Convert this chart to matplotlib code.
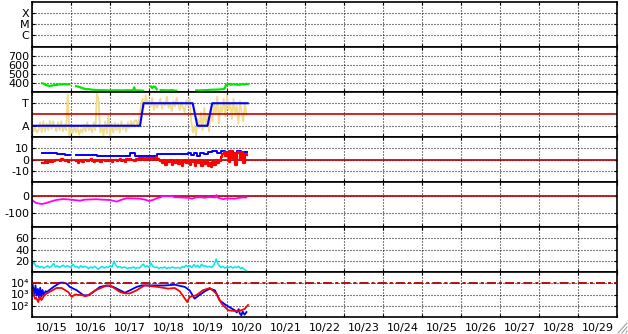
import numpy as np
import matplotlib
matplotlib.use("Agg")
import matplotlib.pyplot as plt
from matplotlib.ticker import FixedLocator, FixedFormatter, NullFormatter
from matplotlib.lines import Line2D

plt.rcParams['font.family'] = ['DejaVu Sans']
plt.rcParams['axes.unicode_minus'] = False
plt.rcParams['lines.scale_dashes'] = False

nan = np.nan
# ---------------- data (time in days since 10/15 00:00) ----------------
date_labels = ['10/15', '10/16', '10/17', '10/18', '10/19', '10/20', '10/21', '10/22',
               '10/23', '10/24', '10/25', '10/26', '10/27', '10/28', '10/29']
panel1_labels = ['C', 'M', 'X']
panel3_labels = ['A', 'T']
panel7_labels = ['10\u00b2', '10\u00b3', '10\u2074']

# panel 2 (green)
green_t = [0.26, 0.30, 0.35, 0.40, 0.45, 0.50, 0.55, 0.60, 0.65, 0.70, 0.75, 0.80, 0.85, 0.90, 0.96, 1.0,
           1.13, 1.18, 1.25, 1.30, 1.35, 1.40, 1.45, 1.50, 1.55, 1.60, 1.66, 1.75, 1.85, 1.95, 2.05, 2.15,
           2.25, 2.35, 2.45, 2.50, 2.55, 2.60, 2.62, 2.64, 2.70, 2.80, 2.85, 2.9,
           3.05, 3.08, 3.12, 3.13, 3.16, 3.20, 3.22,
           3.30, 3.40, 3.50, 3.60, 3.62, 3.65, 3.70, 3.72,
           4.21, 4.30, 4.40, 4.50, 4.60, 4.70, 4.80, 4.85, 4.92, 4.95, 4.97, 5.00, 5.05, 5.10, 5.20,
           5.30, 5.35, 5.40, 5.45, 5.50, 5.54]
green_v = [397, 392, 380, 372, 368, 370, 375, 378, 380, 385, 383, 386, 388, 384, 385, nan,
           365, 360, 350, 342, 335, 330, 332, 328, 325, 324, 322, 320, 320, 318, 318, 320,
           318, 318, 320, 318, 320, 318, 352, 318, 318, 316, 315, nan,
           360, 345, 360, nan, 355, 330, nan,
           322, 320, 318, 322, nan, 315, 315, nan,
           318, 318, 320, 322, 325, 326, 328, 330, 332, 345, 378, 385, 388, 382, 385,
           380, 383, 386, 384, 390, 388]

# panel 3 (hourly pale-yellow series, blue state line)
yellow_v = [1.05, 0.75, 0.9, 0.7, 0.8, 1.15, 0.72, 1.2, 0.75, 1.1, 0.8, 1.22, 0.85, 1.2, 0.95, 0.75,
            1.15, 0.8, 1.2, 0.75, 1.05, 0.8, 2.4, 0.52,
            0.9, 0.68, 0.95, 0.7, 0.9, 0.6, 0.85, 0.7, 1.05, 0.75, 1.15, 0.8, 1.0, 0.7, 1.15, 0.8,
            2.45, 2.1, 0.7, 1.0, 0.55, 1.2, 0.65, 1.5,
            0.55, 1.1, 0.7, 1.15, 0.8, 1.1, 0.7, 1.2, 0.85, 1.05, 0.75, 1.15, 0.9, 1.2, 0.95, 1.2,
            1.25, 1.0, 1.3, 1.9, 2.2, 1.8, 2.35, 1.95,
            2.1, 1.85, 2.25, 1.7, 2.0, 1.8, 1.95, 2.2, 1.75, 2.05, 1.9, 2.3, 1.8, 2.0, 1.65, 2.1,
            1.85, 2.25, 1.95, 1.7, 2.05, 1.8, 1.6, 2.15,
            1.9, 2.2, 1.2, 0.7, 1.0, 0.55, 1.3, 0.9, 1.6, 0.8, 1.8, 1.0, 1.5, 0.75, 1.7, 1.2,
            2.0, 1.5, 2.3, 1.1, 1.9, 1.6, 2.2, 1.4,
            2.35, 1.7, 2.0, 1.3, 2.2, 1.5, 1.9, 1.1, 2.1, 1.6, 1.2, 2.0, 1.5]
state_t = [0.0, 2.77, 2.86, 4.12, 4.24, 4.50, 4.62, 5.53]
state_v = [1, 1, 2, 2, 1, 1, 2, 2]

# panel 4
blue4_t = [0.26, 0.63, 0.85, 0.97, 1.13, 1.66, 2.51, 2.64, 2.9, 3.2, 3.5, 3.9, 4.0, 4.08, 4.15,
           4.22, 4.3, 4.4, 4.5, 4.62, 4.75, 4.85, 4.95, 5.05, 5.15, 5.25, 5.35, 5.45, 5.52]
blue4_v = [5.5, 4.6, 4.0, nan, 4.3, 3.1, 5.5, 3.1, 2.8, 4.6, 4.5, 4.8, 6.0, 4.0, 6.0,
           3.0, 5.5, 4.5, 6.5, 7.2, 6.0, 7.4, 6.5, 7.2, 6.2, 7.5, 6.5, 7.0, 6.8]
red4_start_hour = 6
red4_v = [-3.0, -3.5, -2.5, -3.2, -2.0, -1.5, -2.5, -1.0, -0.5, -0.8, -0.3, -1.2, 0.5, -0.5, -1.0,
          -0.3, -2.0, nan, nan, nan, nan,
          -1.5, -2.8, -1.0, -0.5, -2.0, -0.8, -0.3, -1.5, -0.5, 0.2, -1.0, -2.5, -0.5, -1.2, -0.3,
          -2.0, -0.8, 0.0, -1.0, -0.5, -1.5,
          -0.2, -2.2, -0.8, -0.3, -1.5, -0.5, 0.3, -1.0, -0.4, -1.8, 0.2, -0.8, 0.5, -0.5, 0.0,
          -1.0, 0.5, 0.0, 1.0, 0.5, 1.2, 0.0, 1.5, 0.8,
          1.0, 0.3, 1.5, 0.5, 2.5, 0.8, 0.0, -1.5, -3.5, -0.5, -4.5, -1.0, -2.5, -0.5, -5.0, -2.0,
          -3.5, -0.8, -4.0, -1.5, -5.5, -2.0, -0.5, -3.0,
          -1.0, -4.5, -0.5, -2.5, -5.5, -1.0, -3.5, -0.5, -6.0, -2.5, -4.0, -1.0, -5.5, -3.0,
          -6.5, -2.0, -4.5, -0.5, -3.0, -1.5, 2.0, 5.0, 7.0, 3.0,
          6.5, -2.0, 7.5, 1.0, 6.0, -4.5, 5.5, 7.0, 0.5, 6.5, -3.0, 5.0, 4.0]

# panel 5 (magenta)
mag_t = [0.0, 0.1, 0.25, 0.35, 0.5, 0.62, 0.8, 1.0, 1.23, 1.35, 1.65, 1.8, 2.0, 2.17, 2.3, 2.43,
         2.6, 2.77, 2.9, 3.0, 3.1, 3.2, 3.3, 3.35, 3.6, 3.65, 3.8, 4.0, 4.1, 4.2, 4.3, 4.45, 4.5,
         4.7, 4.73, 4.75, 4.9, 5.0, 5.2, 5.3, 5.4, 5.5]
mag_v = [-22, -40, -47, -42, -30, -22, -16, -20, -26, -20, -17, -20, -22, -32, -20, -11,
         -12, -14, -20, -28, -22, -11, -5, 2, 2, -5, -6, -8, -14, -6, -5, -8, -4,
         -6, 9, -6, -17, -12, -14, -9, -6, -6]

# panel 6 (cyan)
cyan_t = [0.0, 0.05, 0.1, 0.15, 0.2, 0.25, 0.3, 0.35, 0.4, 0.45, 0.5, 0.55, 0.6, 0.65, 0.7, 0.75,
          0.8, 0.85, 0.9, 1.0, 1.05, 1.1, 1.15, 1.2, 1.25, 1.3, 1.35, 1.4, 1.45, 1.5, 1.55, 1.6,
          1.65, 1.7, 1.75, 1.8, 1.85, 1.9, 1.95, 2.0, 2.05, 2.1, 2.15, 2.2, 2.25, 2.3, 2.35, 2.4,
          2.45, 2.5, 2.55, 2.6, 2.65, 2.7, 2.75, 2.8, 2.85, 2.9, 2.95, 3.0, 3.05, 3.1, 3.15, 3.2,
          3.25, 3.3, 3.35, 3.4, 3.45, 3.5, 3.55, 3.6, 3.65, 3.75, 3.8, 3.85, 3.9, 3.95, 4.0, 4.05,
          4.1, 4.15, 4.2, 4.25, 4.3, 4.35, 4.4, 4.45, 4.5, 4.55, 4.6, 4.65, 4.7, 4.72, 4.76, 4.8,
          4.85, 4.9, 4.95, 5.0, 5.05, 5.1, 5.15, 5.2, 5.25, 5.3, 5.35, 5.4, 5.45, 5.5]
cyan_v = [12, 17, 10, 11, 8, 10, 7, 9, 11, 8, 10, 15, 9, 11, 8, 10,
          12, 9, 11, 8, 14, 9, 10, 7, 11, 8, 10, 9, 6, 9, 7, 10,
          8, 5, 8, 10, 7, 9, 8, 11, 9, 19, 12, 8, 10, 7, 9, 8,
          6, 8, 7, 9, 6, 8, 7, 10, 14, 9, 11, 8, 16, 10, 8, 9,
          6, 8, 7, 9, 6, 8, 7, 9, 7, 8, 6, 10, 8, 12, 9, 11,
          8, 13, 9, 12, 8, 14, 10, 11, 9, 10, 8, 11, 18, 23, 16, 11,
          8, 10, 7, 9, 8, 10, 7, 9, 8, 10, 6, 8, 4, 2]

# panel 7 (log scale, values as log10)
blue7_t = [0.0, 0.03, 0.06, 0.09, 0.12, 0.15, 0.18, 0.21, 0.24, 0.27, 0.30, 0.35, 0.38, 0.55,
           0.72, 0.81, 0.89, 0.97, 1.15, 1.32, 1.44, 1.57, 1.74, 1.92, 2.09, 2.26, 2.38, 2.51,
           2.68, 2.82, 3.0, 3.4, 3.66, 3.92, 4.04, 4.17, 4.26, 4.43, 4.56, 4.69, 4.81, 4.98,
           5.2, 5.25, 5.3, 5.33, 5.37, 5.4, 5.45, 5.5]
blue7_log10 = [4.15, 3.6, 3.0, 3.8, 2.9, 3.5, 2.7, 3.6, 2.8, 3.4, 3.0, 3.3, 3.22, 3.67,
               4.05, 4.05, 3.96, 3.67, 3.37, 2.93, 2.93, 3.22, 3.67, 3.81, 3.67, 3.37, 3.16, 3.37,
               3.67, 3.81, 3.81, 3.8, 3.87, 3.67, 3.37, 2.63, 2.87, 3.28, 3.52, 3.37, 2.48, 2.04,
               1.6, 1.4, 1.7, 1.3, 1.15, 1.5, 1.2, 1.44]
red7_t = [0.0, 0.04, 0.08, 0.11, 0.16, 0.2, 0.24, 0.33, 0.63, 0.76, 0.93, 1.02, 1.1, 1.3, 1.36,
          1.45, 1.62, 1.87, 2.0, 2.13, 2.26, 2.38, 2.51, 2.68, 2.82, 2.89, 3.23, 3.49, 3.66, 3.79,
          3.92, 3.98, 4.04, 4.21, 4.38, 4.56, 4.73, 4.86, 5.03, 5.28, 5.45, 5.54]
red7_log10 = [3.5, 3.0, 2.6, 2.7, 2.33, 2.8, 2.5, 3.0, 3.58, 3.58, 3.22, 2.78, 3.0, 2.93, 2.85,
              2.93, 3.37, 3.73, 3.82, 3.52, 3.22, 3.1, 3.1, 3.37, 3.67, 3.81, 3.67, 3.52, 3.58, 3.28,
              2.63, 2.33, 2.78, 2.93, 3.37, 3.58, 3.07, 2.19, 1.6, 1.5, 1.71, 2.07]
threshold7 = 1e4

# ---------------- figure ----------------
W, H = 628, 334
fig = plt.figure(figsize=(W / 100, H / 100), dpi=100)
axs = fig.subplots(7, 1)
fig.subplots_adjust(left=32 / W, right=617 / W, top=1 - 2 / H, bottom=1 - 317 / H, hspace=0)

DARKRED = '#b40000'
dot = (0, (0.72, 1.44))
FS = 8

for ax in axs:
    ax.set_xlim(0, 15)
    ax.xaxis.set_major_locator(FixedLocator(np.arange(0, 16)))
    ax.xaxis.set_major_formatter(NullFormatter())
    ax.grid(True, which='major', color='black', linestyle=dot, linewidth=0.8)
    ax.tick_params(axis='both', which='major', direction='in', length=2.5, width=0.8,
                   top=True, right=True, labelsize=FS, pad=2, colors='black')
    for s in ax.spines.values():
        s.set_linewidth(1.2)
    ax.set_facecolor('white')

# panel 1
ax = axs[0]
ax.set_ylim(-0.1, 4.05)
ax.set_yticks([1, 2, 3])
ax.set_yticklabels(panel1_labels)

# panel 2
ax = axs[1]
ax.plot(green_t, green_v, color='#00e600', lw=1.6)
ax.set_ylim(300, 800)
ax.set_yticks([400, 500, 600, 700])

# panel 3
ax = axs[2]
yt = np.arange(len(yellow_v)) / 24.0
ax.plot(yt, yellow_v, color='#f0dc8a', lw=1.3)
ax.axhline(1.5, color='#c80000', lw=1.2)
ax.plot(state_t, state_v, color='#0000ff', lw=1.5)
ax.set_ylim(0.5, 2.5)
ax.set_yticks([1, 2])
ax.set_yticklabels(panel3_labels)

# panel 4
ax = axs[3]
ax.axhline(0, color=DARKRED, lw=1.2)
ax.plot(blue4_t, blue4_v, color='#0000ff', lw=1.4, drawstyle='steps-post')
rt = (np.arange(len(red4_v)) + red4_start_hour) / 24.0
ax.plot(rt, red4_v, color='#ff0000', lw=1.6, drawstyle='steps-post')
ax.set_ylim(-20, 20)
ax.set_yticks([-10, 0, 10])

# panel 5
ax = axs[4]
ax.axhline(0, color=DARKRED, lw=1.2)
ax.plot(mag_t, mag_v, color='#ff00ff', lw=1.3)
ax.set_ylim(-190, 90)
ax.set_yticks([-100, 0])

# panel 6
ax = axs[5]
ax.plot(cyan_t, cyan_v, color='#00e8e8', lw=1.1)
ax.set_ylim(0, 80)
ax.set_yticks([20, 40, 60])

# panel 7
ax = axs[6]
ax.set_yscale('log')
ax.plot(blue7_t, 10 ** np.array(blue7_log10), color='#0000ff', lw=1.3)
ax.plot(red7_t, 10 ** np.array(red7_log10), color='#ff0000', lw=1.3)
ax.axhline(threshold7, color=DARKRED, lw=1.3, linestyle=(0, (6.5, 2.2, 2.2, 2.2)), zorder=3)
ax.set_ylim(10, 1e5)
ax.yaxis.set_major_locator(FixedLocator([1e2, 1e3, 1e4]))
ax.yaxis.set_minor_locator(FixedLocator([]))
ax.set_yticklabels(panel7_labels, fontsize=FS)
ax.xaxis.set_minor_locator(FixedLocator(np.arange(15) + 0.5))
ax.xaxis.set_minor_formatter(FixedFormatter(date_labels))
ax.tick_params(axis='x', which='minor', length=0, labelsize=FS, pad=4)

# window resize grip (bottom-right corner)
for k in range(3):
    o = 4 * k
    fig.add_artist(Line2D([(W - 2 - o) / W, (W - 1) / W], [1 / H, (2 + o) / H + 1 / H],
                          transform=fig.transFigure, color='#a0a0a0', lw=0.8))

fig.savefig('out.png', dpi=100)
